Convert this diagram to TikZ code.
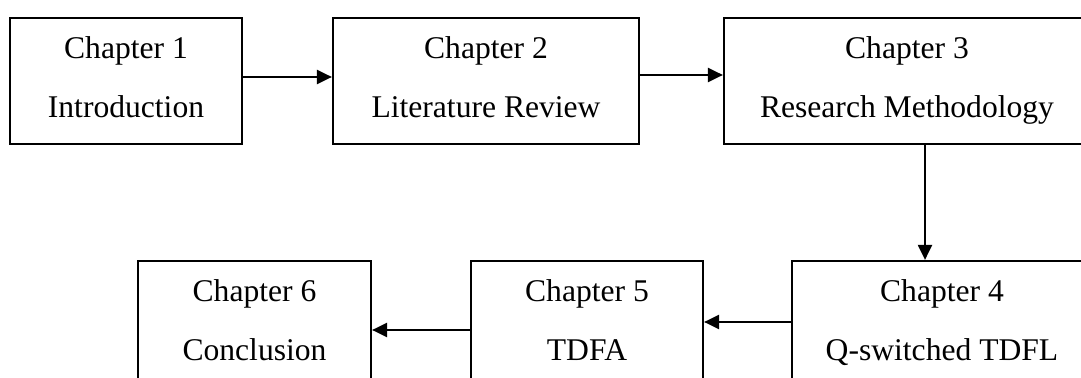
\documentclass[tikz,border=0pt]{standalone}
\usepackage{fontspec}
\setmainfont{Liberation Serif}
\usepackage{tikz}
\usetikzlibrary{arrows.meta,positioning}

\begin{document}
\begin{tikzpicture}[x=0.5pt, y=-0.5pt,
    chap/.style={draw, line width=1.1pt, minimum height=63pt, inner sep=0pt,
                 align=center, font=\fontsize{15.8}{29.5}\selectfont,
                 text height=40pt, text depth=3pt},
    arr/.style={-{Triangle[length=7.5pt,width=7pt]}, line width=1.1pt}
]
\useasboundingbox (0,0) rectangle (1081,378);
\clip (0,0) rectangle (1081,378);

% Top row
\node[chap, minimum width=116pt] (c1) at (126, 81) {Chapter 1\\Introduction};
\node[chap, minimum width=153pt] (c2) at (486, 81) {Chapter 2\\Literature Review};
\node[chap, minimum width=183pt] (c3) at (907, 81) {Chapter 3\\Research Methodology};

% Bottom row
\node[chap, minimum width=150pt] (c4) at (942, 324) {Chapter 4\\Q-switched TDFL};
\node[chap, minimum width=116pt] (c5) at (587, 324) {Chapter 5\\TDFA};
\node[chap, minimum width=116.5pt] (c6) at (254.5, 324) {Chapter 6\\Conclusion};

% Arrows
\draw[arr] ([yshift=2pt]c1.east) -- ([yshift=2pt]c2.west);
\draw[arr] ([yshift=3pt]c2.east) -- ([yshift=3pt]c3.west);
\coordinate (down) at ([xshift=9pt]c3.south);
\draw[arr] (down) -- (down |- c4.north);
\draw[arr] ([yshift=1pt]c4.west) -- ([yshift=1pt]c5.east);
\draw[arr] ([yshift=-3pt]c5.west) -- ([yshift=-3pt]c6.east);

\end{tikzpicture}
\end{document}
